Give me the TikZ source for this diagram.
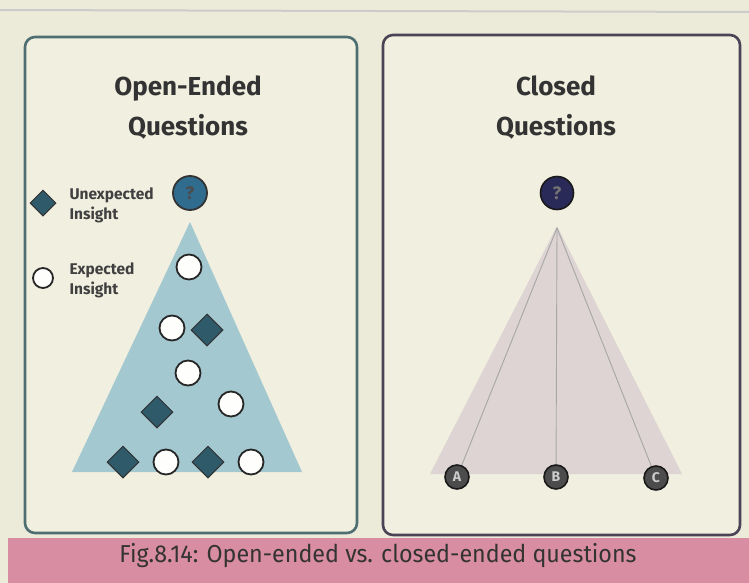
\documentclass[tikz,border=0pt]{standalone}
\usepackage{fontspec}
\setmainfont{Fira Sans}
\usepackage{xcolor}
\usepackage{tikz}
\usetikzlibrary{positioning,shapes.geometric}

\definecolor{paper}{HTML}{ECEAD8}
\definecolor{boxfill}{HTML}{F1EFDF}
\definecolor{openblue}{HTML}{A3C8D0}
\definecolor{qblue}{HTML}{2F6C8E}
\definecolor{dblue}{HTML}{2E5A6A}
\definecolor{navy}{HTML}{2A2A58}
\definecolor{closedfill}{HTML}{DDD4D3}
\definecolor{capband}{HTML}{D98DA2}
\definecolor{tealedge}{HTML}{4E6E72}
\definecolor{purpedge}{HTML}{4A4456}

\tikzset{
  panel/.style={draw, line width=2.6pt, rounded corners=10pt, fill=boxfill},
  heading/.style={font=\bfseries\fontsize{26}{40}\selectfont, text=black!80, align=center},
  expected/.style={circle, draw=black!85, line width=1.8pt, fill=white!95!paper, minimum size=25pt, inner sep=0pt},
  unexpected/.style={diamond, draw=black!80, line width=1pt, fill=dblue, minimum size=32pt, inner sep=0pt},
  legendtext/.style={font=\bfseries\fontsize{15.5}{20}\selectfont, text=black!75, align=left, anchor=west},
  answer/.style={circle, draw=black!90, line width=1.6pt, fill=black!70, text=black!20, minimum size=24pt, inner sep=0pt, font=\bfseries\fontsize{14}{14}\selectfont},
  branch/.style={draw=black!35, line width=0.9pt}
}

\begin{document}
\begin{tikzpicture}[x=1pt,y=-1pt]

\useasboundingbox (0,0) rectangle (749,583);
\fill[paper] (0,0) rectangle (749,583);
\draw[black!20, line width=2pt] (0,10) -- (749,12);

\fill[capband] (8,538) rectangle (749,583);
\node[font=\fontsize{24.5}{26}\selectfont, text=black!80, xscale=0.95] (caption) at (378,556) {Fig.8.14: Open-ended vs. closed-ended questions};

\draw[panel, draw=tealedge] (25,37) rectangle (357,533);
\draw[panel, draw=purpedge] (383,35) rectangle (740,535);

\node[heading] (opentitle) at (188,108) {Open-Ended\\Questions};
\node[heading] (closedtitle) at (556,108) {Closed\\Questions};

% open-ended side
\fill[openblue] (190,222) -- (302,472) -- (72,472) -- cycle;

\node[circle, draw=black!80, line width=1.8pt, fill=qblue, minimum size=34pt, inner sep=0pt, text=black!70, font=\bfseries\fontsize{18}{18}\selectfont] (openq) at (190,193) {?};

\node[unexpected, minimum size=26pt] (keyu) at (43,203) {};
\node[legendtext] (keyutext) at (66,205) {Unexpected\\Insight};
\node[expected, minimum size=20pt] (keye) at (43,278) {};
\node[legendtext] (keyetext) at (66,280) {Expected\\Insight};

\node[expected] (e1) at (189,267) {};
\node[expected] (e2) at (172,328) {};
\node[unexpected] (u1) at (207,330) {};
\node[expected] (e3) at (188,373) {};
\node[unexpected] (u2) at (157,412) {};
\node[expected] (e4) at (231,404) {};
\node[unexpected] (u3) at (123,462) {};
\node[expected] (e5) at (166,462) {};
\node[unexpected] (u4) at (208,462) {};
\node[expected] (e6) at (251,462) {};

% closed side
\fill[closedfill] (557,226) -- (682,474) -- (430,474) -- cycle;

\node[circle, draw=black!90, line width=1.6pt, fill=navy, minimum size=33pt, inner sep=0pt, text=black!55, font=\bfseries\fontsize{18}{18}\selectfont] (closedq) at (557,193) {?};
\coordinate (apex) at (557,228);

\node[answer] (a) at (457,477) {A};
\node[answer] (b) at (556,477) {B};
\node[answer] (c) at (656,478) {C};

\draw[branch] (apex) -- (a);
\draw[branch] (apex) -- (b);
\draw[branch] (apex) -- (c);

\end{tikzpicture}
\end{document}
